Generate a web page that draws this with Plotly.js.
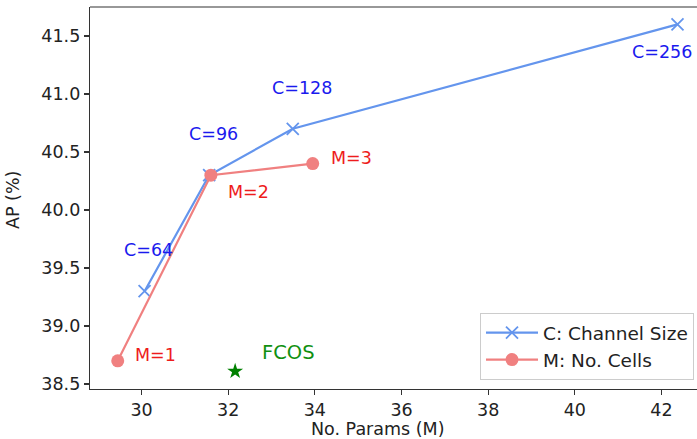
<!DOCTYPE html>
<html>
<head>
<meta charset="utf-8">
<script src="https://cdn.plot.ly/plotly-3.0.1.min.js"></script>
<style>html,body{margin:0;padding:0;background:#fff;}#chart{width:697px;height:439px;}</style>
</head>
<body>
<div id="chart"></div>
<script>
// Data
const channelParams = [30.07, 31.56, 33.49, 42.37];
const channelAP = [39.3, 40.3, 40.7, 41.6];
const channelLabels = ['C=64', 'C=96', 'C=128', 'C=256'];

const cellParams = [29.45, 31.6, 33.95];
const cellAP = [38.7, 40.3, 40.4];
const cellLabels = ['M=1', 'M=2', 'M=3'];

const fcosParams = [32.16];
const fcosAP = [38.61];
const fcosLabel = ['FCOS'];

const xTicks = [30, 32, 34, 36, 38, 40, 42];
const yTicks = [38.5, 39.0, 39.5, 40.0, 40.5, 41.0, 41.5];

// Styling / label offsets (pixels)
const channelOffsets = [[4, 41], [4, 41], [9, 41], [-16, -28]];
const cellOffsets = [[38, 6], [38, -17], [39, 6]];
const fcosOffset = [53, 19];

const FONT = 'DejaVu Sans, sans-serif';
const FS = 17.5;

const traces = [
  {
    x: channelParams, y: channelAP, name: 'C: Channel Size',
    mode: 'lines+markers', type: 'scatter',
    line: {color: '#6495ED', width: 2.2},
    marker: {symbol: 'x-thin', size: 12, line: {color: '#6495ED', width: 1.8}, color: '#6495ED'}
  },
  {
    x: cellParams, y: cellAP, name: 'M: No. Cells',
    mode: 'lines+markers', type: 'scatter',
    line: {color: '#F08080', width: 2.2},
    marker: {symbol: 'circle', size: 13, color: '#F08080'}
  },
  {
    x: fcosParams, y: fcosAP, name: 'FCOS',
    mode: 'markers', type: 'scatter', showlegend: false,
    marker: {symbol: 'star', size: 12, color: '#008000'}
  }
];

const annotations = [];
channelLabels.forEach((t, i) => annotations.push({
  x: channelParams[i], y: channelAP[i], xref: 'x', yref: 'y', text: t, showarrow: false,
  xshift: channelOffsets[i][0], yshift: channelOffsets[i][1],
  font: {family: FONT, size: FS, color: '#1a1aee'}
}));
cellLabels.forEach((t, i) => annotations.push({
  x: cellParams[i], y: cellAP[i], xref: 'x', yref: 'y', text: t, showarrow: false,
  xshift: cellOffsets[i][0], yshift: cellOffsets[i][1],
  font: {family: FONT, size: FS, color: '#ee1c1c'}
}));
annotations.push({
  x: fcosParams[0], y: fcosAP[0], xref: 'x', yref: 'y', text: fcosLabel[0], showarrow: false,
  xshift: fcosOffset[0], yshift: fcosOffset[1],
  font: {family: FONT, size: 19.5, color: '#109010'}
});
// axis titles
annotations.push({
  x: (378 - 90) / 607, y: -40 / 382, xref: 'paper', yref: 'paper', text: 'No. Params (M)',
  showarrow: false, xanchor: 'center', yanchor: 'middle',
  font: {family: FONT, size: FS, color: '#222'}
});
annotations.push({
  x: -77 / 607, y: (389 - 200) / 382, xref: 'paper', yref: 'paper', text: 'AP (%)',
  showarrow: false, textangle: -90, xanchor: 'center', yanchor: 'middle',
  font: {family: FONT, size: FS, color: '#222'}
});

const layout = {
  width: 697, height: 439,
  margin: {l: 90, r: 0, t: 7, b: 50, pad: 0},
  paper_bgcolor: '#fff', plot_bgcolor: '#fff',
  showlegend: true,
  font: {family: FONT, size: FS, color: '#222'},
  xaxis: {
    range: [28.81, 42.82], tickvals: xTicks, ticktext: xTicks.map(String),
    showgrid: false, zeroline: false, showline: true, linecolor: '#333', linewidth: 1.2,
    ticks: 'outside', ticklen: 5, tickwidth: 1.2, tickcolor: '#333',
    tickfont: {family: FONT, size: FS, color: '#222'}
  },
  yaxis: {
    range: [38.457, 41.75], tickvals: yTicks, ticktext: yTicks.map(v => v.toFixed(1)),
    showgrid: false, zeroline: false, showline: true, linecolor: '#333', linewidth: 1.2,
    ticks: 'outside', ticklen: 5, tickwidth: 1.2, tickcolor: '#333',
    tickfont: {family: FONT, size: FS, color: '#222'}
  },
  shapes: [{type: 'line', xref: 'paper', yref: 'paper', x0: 0, x1: 1, y0: 1, y1: 1,
            line: {color: '#333', width: 1.2}}],
  legend: {
    x: (480 - 90) / 607, y: (389 - 313) / 382, xanchor: 'left', yanchor: 'top',
    bgcolor: '#fff', bordercolor: '#ccc', borderwidth: 1,
    font: {family: FONT, size: 18.5, color: '#222'},
    itemwidth: 52,
    tracegroupgap: 0
  },
  annotations: annotations
};

Plotly.newPlot('chart', traces, layout, {displayModeBar: false, staticPlot: true});
</script>
</body>
</html>
